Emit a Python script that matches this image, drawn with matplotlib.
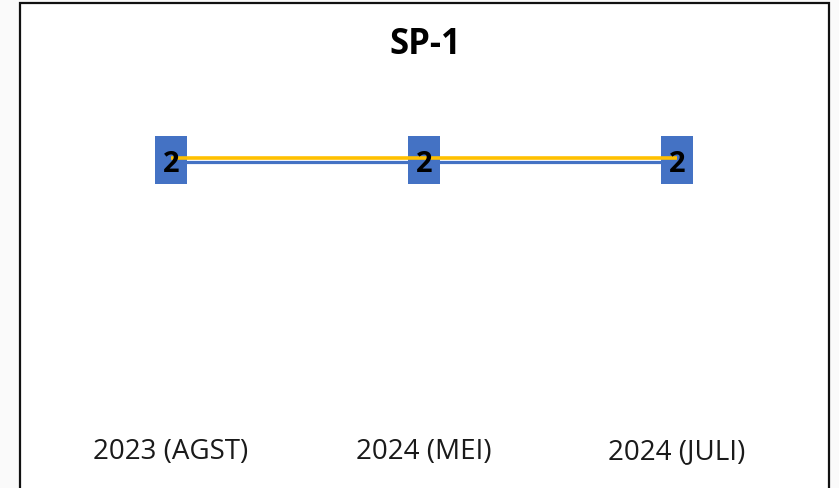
import matplotlib.pyplot as plt
import matplotlib.transforms as mtransforms
from matplotlib.patches import Rectangle

plt.rcParams["font.family"] = ["Open Sans", "DejaVu Sans"]

# data
categories = ["2023 (AGST)", "2024 (MEI)", "2024 (JULI)"]
series_blue = [2, 2, 2]
series_yellow = [2, 2, 2]
title = "SP-1"

BLUE = "#4472C4"
YELLOW = "#FFC000"

fig = plt.figure(figsize=(8.39, 4.89), dpi=100, facecolor="#fafafa")

# chart frame (white area with dark border), kept behind the axes
frame = Rectangle(
    (20 / 839, -0.02), 809 / 839, 1.02 - 4 / 489,
    transform=fig.transFigure, facecolor="white", edgecolor="#111111",
    linewidth=1.6, zorder=-5,
)
fig.patches.append(frame)

ax = fig.add_axes([0.053, 0.1247, 0.9047, 0.683])
ax.set_facecolor("none")
ax.set_zorder(1)
x = list(range(len(categories)))

blue_tr = mtransforms.offset_copy(ax.transData, fig=fig, x=0, y=-2.5, units="dots")
yellow_tr = mtransforms.offset_copy(ax.transData, fig=fig, x=0, y=1.5, units="dots")

ax.plot(x, series_blue, color=BLUE, linewidth=2.3, transform=blue_tr, zorder=2,
        solid_capstyle="butt")

# data label boxes
box = [(-0.33, -0.5), (0.33, -0.5), (0.33, 0.5), (-0.33, 0.5), (-0.33, -0.5)]
ax.plot(x, series_blue, linestyle="none", marker=box, markersize=34,
        markerfacecolor=BLUE, markeredgecolor=BLUE, markeredgewidth=0, zorder=3)

ax.plot(x, series_yellow, color=YELLOW, linewidth=2.6, transform=yellow_tr, zorder=4,
        solid_capstyle="butt")

for xi, v in zip(x, series_blue):
    ax.text(xi, v, str(v), ha="center", va="center_baseline", fontsize=21,
            fontweight="bold", color="black", zorder=5)

ax.set_xlim(-0.5, 2.5)
ax.set_ylim(0, 2.5)
ax.set_xticks(x)
ax.set_xticklabels(categories, fontsize=20, color="#1a1a1a")
ax.tick_params(axis="x", length=0, pad=7.5)
ax.set_yticks([])
for s in ax.spines.values():
    s.set_visible(False)

fig.text(425 / 839, 1 - 45 / 489, title, ha="center", va="center", fontsize=25,
         fontweight="bold", color="black")

fig.savefig("out.png", dpi=100, facecolor=fig.get_facecolor())
